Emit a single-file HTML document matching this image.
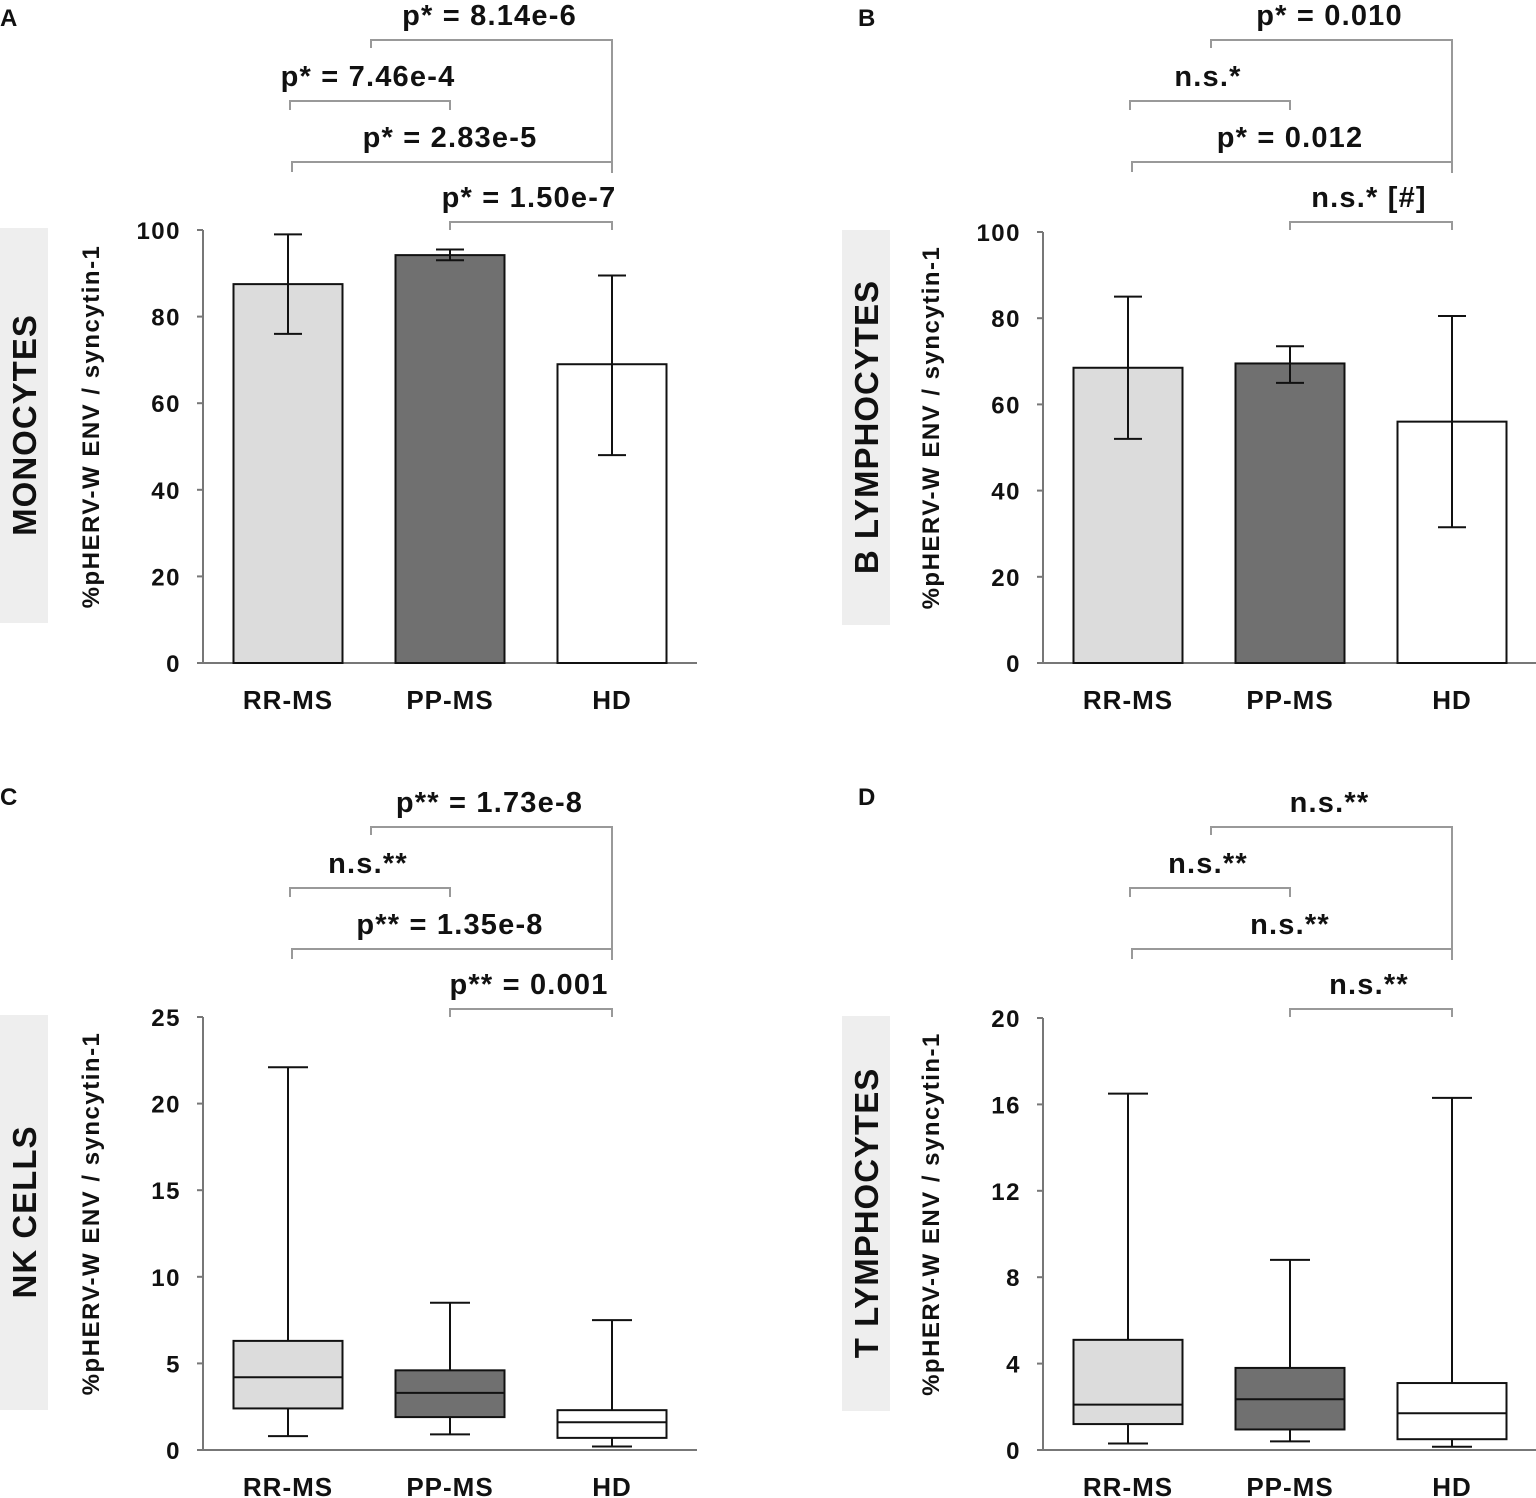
<!DOCTYPE html>
<html><head><meta charset="utf-8"><style>
html,body{margin:0;padding:0;background:#fff}
svg{display:block}
text{font-family:"Liberation Sans",Arial,sans-serif;font-weight:bold;fill:#111}
</style></head><body>
<svg id="chart" width="1536" height="1498" viewBox="0 0 1536 1498" xmlns="http://www.w3.org/2000/svg"></svg>
<script>
const categories = ["RR-MS","PP-MS","HD"];
const fills = ["#dcdcdc","#707070","#ffffff"];
// Panel A (monocytes) bar means and error bar bounds
const aMeans = [87.5, 94.2, 69];
const aLow = [76, 93, 48];
const aHigh = [99, 95.5, 89.5];
const aTicks = [0,20,40,60,80,100];
const aPvals = ["p* = 8.14e-6","p* = 7.46e-4","p* = 2.83e-5","p* = 1.50e-7"];
// Panel B (B lymphocytes)
const bMeans = [68.5, 69.5, 56];
const bLow = [52, 65, 31.5];
const bHigh = [85, 73.5, 80.5];
const bTicks = [0,20,40,60,80,100];
const bPvals = ["p* = 0.010","n.s.*","p* = 0.012","n.s.* [#]"];
// Panel C (NK cells) box plots
const cMin = [0.8, 0.9, 0.2];
const cQ1 = [2.4, 1.9, 0.7];
const cMed = [4.2, 3.3, 1.6];
const cQ3 = [6.3, 4.6, 2.3];
const cMax = [22.1, 8.5, 7.5];
const cTicks = [0,5,10,15,20,25];
const cPvals = ["p** = 1.73e-8","n.s.**","p** = 1.35e-8","p** = 0.001"];
// Panel D (T lymphocytes)
const dMin = [0.3, 0.4, 0.15];
const dQ1 = [1.2, 0.95, 0.5];
const dMed = [2.1, 2.35, 1.7];
const dQ3 = [5.1, 3.8, 3.1];
const dMax = [16.5, 8.8, 16.3];
const dTicks = [0,4,8,12,16,20];
const dPvals = ["n.s.**","n.s.**","n.s.**","n.s.**"];

const svg = document.getElementById('chart');
const NS = "http://www.w3.org/2000/svg";
function mk(tag, attrs, parent, txt){
  const e = document.createElementNS(NS, tag);
  for (const k in attrs) e.setAttribute(k, attrs[k]);
  if (txt !== undefined) e.textContent = txt;
  (parent || svg).appendChild(e);
  return e;
}

function panel(o){
  const g = mk('g', {});
  
  
  const ox = o.ox, y0 = o.y0, yTop = o.yTop, vmax = o.ticks[o.ticks.length-1];
  const Y = v => y0 - (v / vmax) * (y0 - yTop);
  const cx = [ox+288, ox+450, ox+612];
  const hw = 54.5;
  const L = mk('text', {x: ox + (o.ox ? 18 : 0), y: o.letterY, 'font-size': 24}, g, o.letter);
  
  
  const gb = mk('rect', {x: ox + (o.ox?2:0), y: yTop-2, width: 48, height: 395, fill: '#eeeeee'}, g);
  
  
  const gx = ox + (o.ox?2:0) + 24, gy = yTop - 2 + 197;
  const gl = mk('text', {x: gx, y: gy + 12, 'font-size': 33, 'letter-spacing': 1, 'text-anchor': 'middle', transform: `rotate(-90 ${gx} ${gy})`}, g, o.cell);
  
  
  const tx = ox + 90, ty = (y0 + yTop)/2 - 20;
  const yt = mk('text', {x: tx, y: ty + 9, 'font-size': 24, 'letter-spacing': 1.5, 'text-anchor': 'middle', transform: `rotate(-90 ${tx} ${ty})`}, g, '%pHERV-W ENV / syncytin-1');
  
  
  const ax = ox + 203;
  const ya = mk('line', {x1: ax, y1: Y(vmax), x2: ax, y2: y0, stroke: '#777', 'stroke-width': 2}, g);
  
  
  const xa = mk('line', {x1: ax, y1: y0, x2: ox + 697, y2: y0, stroke: '#777', 'stroke-width': 2}, g);
  
  
  o.ticks.forEach(t => {
    mk('line', {x1: ax-6, y1: Y(t), x2: ax, y2: Y(t), stroke: '#777', 'stroke-width': 2}, g);
    const tl = mk('text', {x: ax - 22, y: Y(t) + 9, 'font-size': 24, 'letter-spacing': 1.5, 'text-anchor': 'end'}, g, String(t));
    
    
  });
  categories.forEach((c, i) => {
    const xl = mk('text', {x: cx[i], y: y0 + 46, 'font-size': 26, 'letter-spacing': 1, 'text-anchor': 'middle'}, g, c);
    
    
  });
  for (let i = 0; i < 3; i++) {
    if (o.type === 'bar') {
      const b = mk('rect', {x: cx[i]-hw, y: Y(o.mean[i]), width: 2*hw, height: y0 - Y(o.mean[i]), fill: fills[i], stroke: '#111', 'stroke-width': 2}, g);
      
      
      const e = mk('path', {d: `M${cx[i]} ${Y(o.low[i])}V${Y(o.high[i])}M${cx[i]-14} ${Y(o.low[i])}H${cx[i]+14}M${cx[i]-14} ${Y(o.high[i])}H${cx[i]+14}`, stroke: '#111', 'stroke-width': 2, fill: 'none'}, g);
      
      
    } else {
      const w = mk('path', {d: `M${cx[i]} ${Y(o.min[i])}V${Y(o.max[i])}M${cx[i]-20} ${Y(o.min[i])}H${cx[i]+20}M${cx[i]-20} ${Y(o.max[i])}H${cx[i]+20}`, stroke: '#111', 'stroke-width': 2, fill: 'none'}, g);
      
      
      const b = mk('rect', {x: cx[i]-hw, y: Y(o.q3[i]), width: 2*hw, height: Y(o.q1[i]) - Y(o.q3[i]), fill: fills[i], stroke: '#111', 'stroke-width': 2}, g);
      
      
      const m = mk('line', {x1: cx[i]-hw, y1: Y(o.med[i]), x2: cx[i]+hw, y2: Y(o.med[i]), stroke: '#111', 'stroke-width': 2}, g);
      
      
    }
  }
  const by = o.bracketY;
  const br = [[ox+371, ox+612, by, by+133],[ox+290, ox+450, by+61, by+70],[ox+292, ox+612, by+122, by+132],[ox+450, ox+612, by+182, by+190]];
  const leftDrop = [by+8, by+70, by+132, by+190];
  br.forEach((b, i) => {
    const p = mk('path', {d: `M${b[0]} ${leftDrop[i]}V${b[2]}H${b[1]}V${b[3]}`, stroke: '#999', 'stroke-width': 2, fill: 'none'}, g);
    
    
    const t = mk('text', {x: (b[0]+b[1])/2 - 2, y: b[2] - 15, 'font-size': 29, 'letter-spacing': 1.2, 'text-anchor': 'middle'}, g, o.pvals[i]);
    
    
  });
}

panel({name:'panel-a-monocytes', letter:'A', letterY:26, ox:0, y0:663, yTop:230, ticks:aTicks, type:'bar', mean:aMeans, low:aLow, high:aHigh, pvals:aPvals, cell:'MONOCYTES', bracketY:40});
panel({name:'panel-b-b-lymphocytes', letter:'B', letterY:26, ox:840, y0:663, yTop:232, ticks:bTicks, type:'bar', mean:bMeans, low:bLow, high:bHigh, pvals:bPvals, cell:'B LYMPHOCYTES', bracketY:40});
panel({name:'panel-c-nk-cells', letter:'C', letterY:805, ox:0, y0:1450, yTop:1017, ticks:cTicks, type:'box', min:cMin, q1:cQ1, med:cMed, q3:cQ3, max:cMax, pvals:cPvals, cell:'NK CELLS', bracketY:827});
panel({name:'panel-d-t-lymphocytes', letter:'D', letterY:805, ox:840, y0:1450, yTop:1018, ticks:dTicks, type:'box', min:dMin, q1:dQ1, med:dMed, q3:dQ3, max:dMax, pvals:dPvals, cell:'T LYMPHOCYTES', bracketY:827});
</script>
</body></html>
